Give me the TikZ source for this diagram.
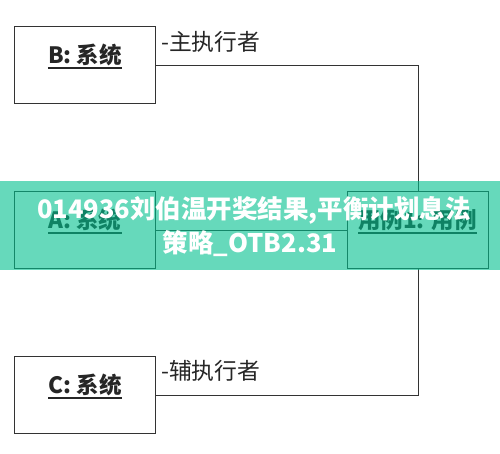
\documentclass[tikz,border=0pt]{standalone}
\usepackage{fontspec}
\setmainfont{Noto Sans CJK SC}
\definecolor{linegray}{HTML}{333333}
\definecolor{bannergreen}{RGB}{0,192,142}
\begin{document}
\begin{tikzpicture}[x=1pt,y=-1pt,
  sysbox/.style={draw=linegray,line width=1.4pt,fill=white,inner sep=0pt,
    minimum width=141pt,minimum height=77pt,anchor=north west},
  conn/.style={draw=linegray,line width=1.2pt},
  lbl/.style={font=\fontsize{22.5}{22.5}\selectfont\bfseries,anchor=base,inner sep=0pt,text=black!85},
  uline/.style={draw=black!85,line width=1.6pt},
  role/.style={font=\fontsize{22.8}{22.8}\selectfont,anchor=base west,inner sep=0pt,text=black!85},
  bannertext/.style={font=\fontsize{25.5}{25.5}\selectfont\bfseries,inner sep=0pt,text=white}]
\useasboundingbox (0,0) rectangle (500,453);
\fill[white] (0,0) rectangle (500,453);
% boxes
\node[sysbox] (B) at (14,26) {};
\node[sysbox] (A) at (14,191) {};
\node[sysbox] (U) at (347,191) {};
\node[sysbox] (C) at (14,356) {};
% connectors
\draw[conn] (B.east) -| (U.north);
\draw[conn] (C.east) -| (U.south);
\draw[conn] (A.east) -- (U.west);
% labels
\node[lbl] (Bl) at (85,63) {B: 系统};
\node[lbl] (Al) at (85,228) {A: 系统};
\node[lbl] (Ul) at (417.5,228) {用例1: 用例};
\node[lbl] (Cl) at (85,393) {C: 系统};
\foreach \n in {Bl,Al,Ul,Cl}{
  \draw[uline] ([yshift=-5pt]\n.base west) -- ([yshift=-5pt]\n.base east);
}
\node[role] (r1) at (161,50) {-主执行者};
\node[role] (r2) at (161,379) {-辅执行者};
% banner
\node[fill=bannergreen,fill opacity=0.6,inner sep=0pt,minimum width=500pt,
  minimum height=89pt,anchor=north west] (banner) at (0,181) {};
\node[bannertext,anchor=base west] (t1) at (37,218) {014936刘伯温开奖结果,平衡计划息法};
\node[bannertext,anchor=base] (t2) at (250,252) {策略\_OTB2.31};
\end{tikzpicture}
\end{document}
